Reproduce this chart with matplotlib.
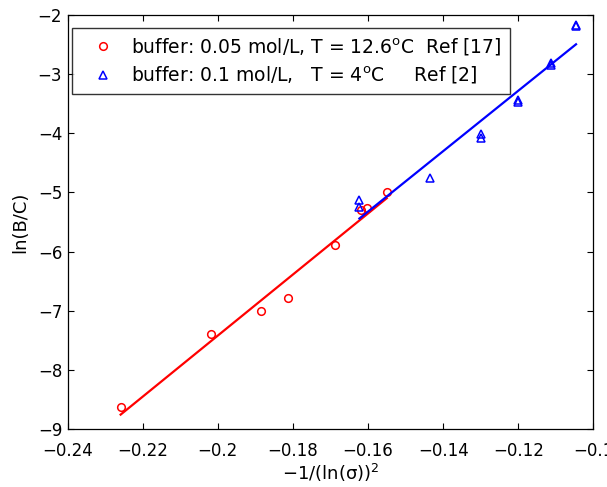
import numpy as np
import matplotlib
matplotlib.use("Agg")
import matplotlib.pyplot as plt

plt.rcParams['font.family'] = ['DejaVu Sans']
plt.rcParams['mathtext.fontset'] = 'dejavusans'

# Data
red_x = [-0.2259, -0.2019, -0.1886, -0.1812, -0.1687, -0.1620, -0.1602, -0.1550]
red_y = [-8.63, -7.40, -7.01, -6.79, -5.89, -5.30, -5.27, -4.99]
blue_x = [-0.1623, -0.1623, -0.1434, -0.1300, -0.1300, -0.1200, -0.1200,
          -0.1112, -0.1112, -0.1046, -0.1046]
blue_y = [-5.13, -5.25, -4.75, -4.02, -4.08, -3.43, -3.47, -2.82, -2.85, -2.17, -2.19]

red_label = "buffer: 0.05 mol/L, T = 12.6$^{\\mathrm{o}}$C  Ref [17]"
blue_label = "buffer: 0.1 mol/L,   T = 4$^{\\mathrm{o}}$C     Ref [2]"

xticks = [-0.24, -0.22, -0.2, -0.18, -0.16, -0.14, -0.12, -0.1]
xticklabels = ["\u22120.24", "\u22120.22", "\u22120.2", "\u22120.18", "\u22120.16",
               "\u22120.14", "\u22120.12", "\u22120.1"]
yticks = [-9, -8, -7, -6, -5, -4, -3, -2]
yticklabels = ["\u22129", "\u22128", "\u22127", "\u22126", "\u22125", "\u22124", "\u22123", "\u22122"]

fig = plt.figure(figsize=(6.07, 4.87), dpi=100)
ax = fig.add_axes([67.7 / 607, 1 - 429 / 487, (593.3 - 67.7) / 607, (429 - 15) / 487])

ax.plot(red_x, red_y, 'o', mfc='none', mec='red', ms=5.5, mew=1.1, label=red_label)
ax.plot(blue_x, blue_y, '^', mfc='none', mec='blue', ms=5.5, mew=1.1, label=blue_label)

for xs, ys, c in [(red_x, red_y, 'red'), (blue_x, blue_y, 'blue')]:
    p = np.polyfit(xs, ys, 1)
    xl = np.array([min(xs), max(xs)])
    ax.plot(xl, np.polyval(p, xl), '-', color=c, lw=1.6)

ax.set_xlim(-0.24, -0.1)
ax.set_ylim(-9, -2)
ax.set_xticks(xticks)
ax.set_xticklabels(xticklabels)
ax.set_yticks(yticks)
ax.set_yticklabels(yticklabels)
ax.tick_params(direction='in', top=True, right=True, length=4, width=0.8, labelsize=12)
ax.tick_params(axis='x', pad=9)
ax.tick_params(axis='y', pad=4)
for s in ax.spines.values():
    s.set_linewidth(0.9)

ax.set_xlabel("\u22121/(ln(\u03c3))$^{2}$", fontsize=13, labelpad=1.5)
ax.set_ylabel("ln(B/C)", fontsize=13, labelpad=6)

leg = ax.legend(loc='upper left', bbox_to_anchor=(0.0076, 0.968), borderaxespad=0,
                fancybox=False, frameon=True, edgecolor='black', handlelength=2.5,
                handletextpad=0.25, borderpad=0.42, labelspacing=0.4, fontsize=13.5)
leg.get_frame().set_linewidth(1.0)

fig.savefig("out.png", dpi=100)
